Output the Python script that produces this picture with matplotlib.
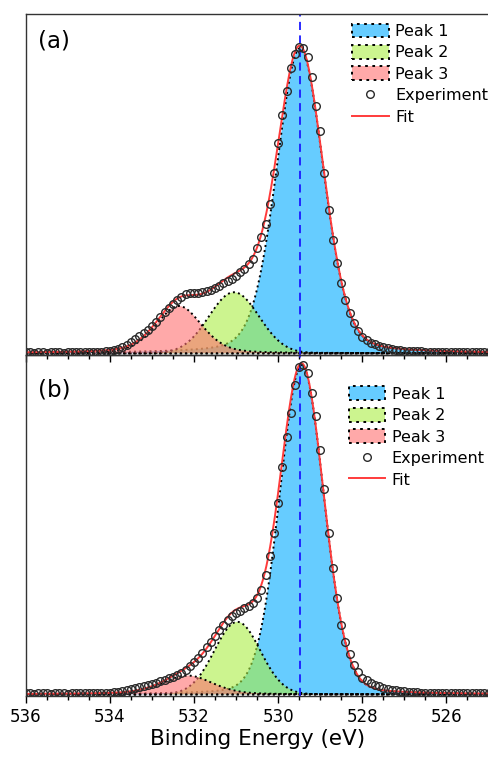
import numpy as np
import matplotlib
matplotlib.use('Agg')
import matplotlib.pyplot as plt
from matplotlib.colors import to_rgba
from matplotlib.ticker import MultipleLocator

# Binding energy grid of the measurement (0.1 eV steps, 536 -> 525 eV)
energy = np.linspace(536.0, 525.0, 111)

exp_a = [0.003, 0.003, 0.002, 0.003, 0.003, 0.002, 0.003, 0.003, 0.003, 0.002,
         0.003, 0.003, 0.003, 0.003, 0.003, 0.004,
         0.004, 0.004, 0.005, 0.006, 0.008, 0.011, 0.015, 0.021, 0.028, 0.037,
         0.046, 0.056, 0.066, 0.077, 0.088, 0.103, 0.120, 0.137, 0.150, 0.163,
         0.174, 0.184, 0.193, 0.197, 0.198, 0.199, 0.201, 0.204, 0.209, 0.215,
         0.222, 0.229, 0.236, 0.244, 0.253, 0.265, 0.277, 0.292, 0.310, 0.345,
         0.380, 0.425, 0.490, 0.590, 0.690, 0.780, 0.860, 0.935, 0.980, 1.005,
         1.000, 0.970, 0.905, 0.810, 0.727, 0.590, 0.470, 0.370, 0.295, 0.232,
         0.175, 0.131, 0.100, 0.073, 0.055, 0.042, 0.034, 0.029, 0.025, 0.021,
         0.018, 0.015, 0.012, 0.010, 0.009, 0.008, 0.007, 0.006, 0.006, 0.005,
         0.005, 0.005, 0.004, 0.004, 0.004, 0.004, 0.003, 0.004, 0.003, 0.003,
         0.003, 0.003, 0.003, 0.003, 0.003]

exp_b = [0.003, 0.003, 0.002, 0.003, 0.003, 0.003, 0.002, 0.003, 0.003, 0.003,
         0.002, 0.003, 0.003, 0.003, 0.003, 0.003,
         0.003, 0.004, 0.004, 0.004, 0.005, 0.006, 0.008, 0.010, 0.013, 0.016,
         0.019, 0.022, 0.025, 0.029, 0.032, 0.036, 0.040, 0.044, 0.049, 0.054,
         0.060, 0.066, 0.074, 0.085, 0.098, 0.111, 0.125, 0.143, 0.158, 0.176,
         0.195, 0.211, 0.226, 0.237, 0.246, 0.254, 0.261, 0.269, 0.277, 0.292,
         0.318, 0.362, 0.420, 0.490, 0.580, 0.690, 0.780, 0.855, 0.940, 0.995,
         1.000, 0.975, 0.915, 0.846, 0.742, 0.622, 0.490, 0.385, 0.292, 0.212,
         0.160, 0.122, 0.088, 0.068, 0.051, 0.043, 0.035, 0.029, 0.024, 0.020,
         0.017, 0.014, 0.012, 0.010, 0.009, 0.008, 0.007, 0.006, 0.005, 0.005,
         0.005, 0.004, 0.004, 0.004, 0.004, 0.004, 0.003, 0.003, 0.003, 0.003,
         0.003, 0.003, 0.003, 0.003, 0.003]

# Fitted components: centre (eV), height, FWHM (eV), Lorentzian fraction
peak_names = ['Peak 1', 'Peak 2', 'Peak 3']
center_a = [529.48, 531.05, 532.36]
height_a = [1.000, 0.200, 0.155]
fwhm_a = [1.32, 1.40, 1.28]
eta_a = [0.20, 0.00, 0.30]

center_b = [529.44, 530.97, 532.15]
height_b = [1.000, 0.220, 0.057]
fwhm_b = [1.24, 1.28, 1.40]
eta_b = [0.12, 0.00, 0.30]

ref_energy = 529.47
fill_colors = ['#00AAFF', '#AAEE44', '#FF7171']


def pvoigt(x, c, h, fwhm, eta):
    u = ((x - c) / (fwhm / 2)) ** 2
    return h * ((1 - eta) * np.exp(-np.log(2) * u) + eta / (1 + u))


def draw_panel(ax, exp, centers, heights, fwhms, etas, label, ylim, leg_anchor):
    x = np.linspace(536.0, 525.0, 1101)
    fit = np.zeros_like(x)
    for name, c, h, w, e, col in zip(peak_names, centers, heights, fwhms, etas, fill_colors):
        y = pvoigt(x, c, h, w, e)
        fit += y
        ax.fill_between(x, 0, y, facecolor=to_rgba(col, 0.6), edgecolor='black',
                        linestyle=':', linewidth=1.4, label=name)
    ax.axvline(ref_energy, color='#1a1aff', linewidth=1.3, dashes=(4.5, 3))
    ax.plot(x, fit, color='#ff3b3b', linewidth=1.4, label='Fit')
    ax.plot(energy, exp, 'o', markerfacecolor='none', markeredgecolor='#2a2a2a',
            markersize=5.5, markeredgewidth=1.0, label='Experiment')

    ax.set_xlim(536, 525)
    ax.set_ylim(*ylim)
    ax.set_yticks([])
    ax.xaxis.set_major_locator(MultipleLocator(2))
    ax.xaxis.set_minor_locator(MultipleLocator(0.5))
    ax.tick_params(axis='x', which='major', direction='out', length=5, width=1, labelsize=12)
    ax.tick_params(axis='x', which='minor', direction='out', length=3, width=1)
    for sp in ax.spines.values():
        sp.set_color('#333333')
        sp.set_linewidth(1.0)

    ax.text(0.026, label[1], label[0], transform=ax.transAxes, fontsize=16.5, va='center')

    handles, labels = ax.get_legend_handles_labels()
    order = [labels.index(n) for n in peak_names + ['Experiment', 'Fit']]
    ax.legend([handles[i] for i in order], [labels[i] for i in order],
              loc='upper left', bbox_to_anchor=leg_anchor, frameon=False,
              fontsize=11.5, borderpad=0, handlelength=2.3, handleheight=0.95,
              handletextpad=0.4, labelspacing=0.38, borderaxespad=0)


fig = plt.figure(figsize=(4.89, 7.62), dpi=100)
ax_a = fig.add_axes([0.0526, 0.5341, 0.9464, 0.4475])
ax_b = fig.add_axes([0.0526, 0.0866, 0.9464, 0.4475], sharex=ax_a)
ax_b.patch.set_alpha(0)

draw_panel(ax_a, exp_a, center_a, height_a, fwhm_a, eta_a, ('(a)', 0.922),
           (-0.0056, 1.112), (0.705, 0.972))
draw_panel(ax_b, exp_b, center_b, height_b, fwhm_b, eta_b, ('(b)', 0.897),
           (-0.005, 1.030), (0.698, 0.908))

ax_a.tick_params(axis='x', labelbottom=False)
ax_b.set_xlabel('Binding Energy (eV)', fontsize=15.5, labelpad=2)

fig.savefig('out.png', dpi=100)
